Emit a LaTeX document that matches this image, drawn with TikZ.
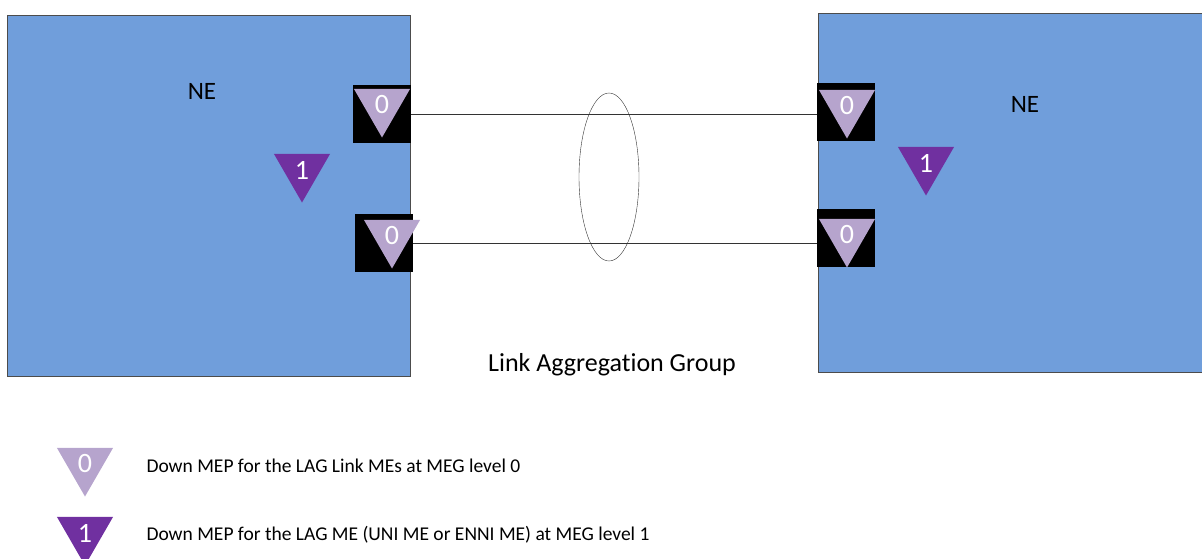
\documentclass[tikz,border=0pt]{standalone}
\usepackage{fontspec}
\setmainfont{Carlito}[RawFeature={-liga;-dlig;-clig}]
\usetikzlibrary{shapes.geometric}
\definecolor{neblue}{RGB}{112,158,219}
\definecolor{meplight}{RGB}{182,164,205}
\definecolor{mepdark}{RGB}{112,48,160}
\begin{document}
\begin{tikzpicture}[x=1pt,y=-1pt,
  nebox/.style={draw=black!70,fill=neblue,anchor=north west,inner sep=0pt},
  port/.style={fill=black,minimum size=58pt,inner sep=0pt},
  mep/.style={regular polygon,regular polygon sides=3,shape border rotate=180,minimum size=65pt,inner sep=0pt,text=white,font=\fontsize{28}{30}\selectfont},
  mepzero/.style={mep,fill=meplight},
  mepone/.style={mep,fill=mepdark},
  link/.style={draw=black!80,thin}]
\useasboundingbox (0,0) rectangle (1202,558);
% network elements
\node[nebox,minimum width=403pt,minimum height=361pt] (neleft) at (7,15) {};
\node[nebox,minimum width=384pt,minimum height=359pt] (neright) at (818,13) {};
\node[font=\fontsize{25}{28}\selectfont] (neltext) at (202,91) {NE};
\node[font=\fontsize{25}{28}\selectfont] (nertext) at (1025,104) {NE};
% ports
\node[port] (lpa) at (382,114) {};
\node[port] (lpb) at (384,243) {};
\node[port] (rpa) at (846,112) {};
\node[port] (rpb) at (846,238) {};
\node[mepzero] (lma) at (382,105) {0};
\node[mepzero] (lmb) at (392,236) {0};
\node[mepzero] (rma) at (847,106) {0};
\node[mepzero] (rmb) at (847,235) {0};
% LAG MEPs
\node[mepone] (lmone) at (302,170) {1};
\node[mepone] (rmone) at (926,163) {1};
% links
\draw[link] (lpa.east) -- (lpa.east -| rpa.west);
\draw[link] (lpb.east) -- (lpb.east -| rpb.west);
\node[draw=black!80,thin,ellipse,minimum width=60pt,minimum height=168pt] (lag) at (609,177) {};
\node[font=\fontsize{26}{30}\selectfont] (lagtext) at (612,365) {Link Aggregation Group};
% legend
\node[mepzero] (keyzero) at (85,464) {0};
\node[mepone] (keyone) at (85,533) {1};
\node[anchor=west,font=\fontsize{19.5}{22}\selectfont] (keyzerotext) at (143,466) {Down MEP for the LAG Link MEs at MEG level 0};
\node[anchor=west,font=\fontsize{19.5}{22}\selectfont] (keyonetext) at (143,535) {Down MEP for the LAG ME (UNI ME or ENNI ME) at MEG level 1};
\end{tikzpicture}
\end{document}
